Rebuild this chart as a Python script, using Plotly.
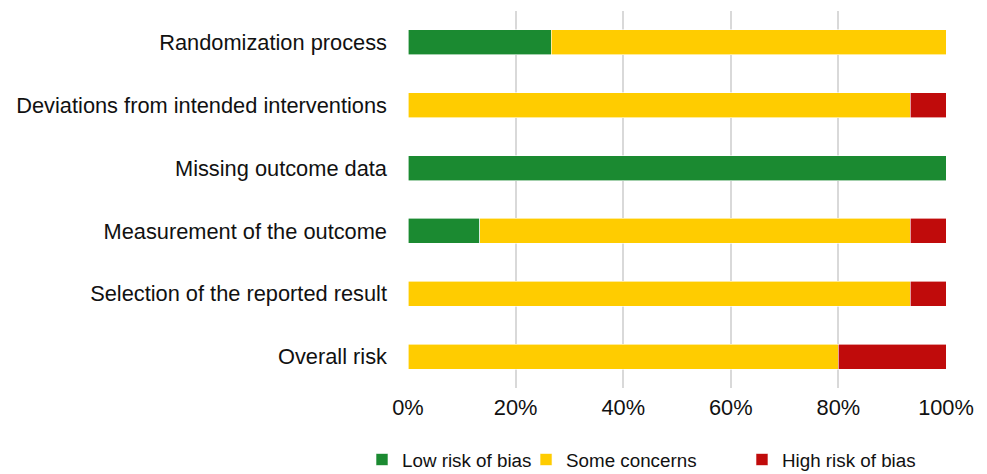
import plotly.graph_objects as go

categories = ["Randomization process", "Deviations from intended interventions",
              "Missing outcome data", "Measurement of the outcome",
              "Selection of the reported result", "Overall risk"]
low = [26.67, 0, 100, 13.33, 0, 0]
some = [73.33, 93.33, 0, 80.0, 93.33, 80.0]
high = [0, 6.67, 0, 6.67, 6.67, 20.0]
tick_vals = [0, 20, 40, 60, 80, 100]
tick_text = ["0%", "20%", "40%", "60%", "80%", "100%"]

series = [("Low risk of bias", low, "#1b8a31", "legend2"),
          ("Some concerns", some, "#ffcc00", "legend3"),
          ("High risk of bias", high, "#c00b0b", "legend4")]

fig = go.Figure()
for name, vals, col, lg in series:
    fig.add_trace(go.Bar(y=categories, x=vals, name=name, orientation="h",
                         marker=dict(color=col, line=dict(color="white", width=0.6)),
                         width=0.4, legend=lg, showlegend=True))

leg_common = dict(orientation="h", xanchor="left", y=-0.14, yanchor="top",
                  font=dict(size=18.8), itemwidth=30, visible=True,
                  bgcolor="rgba(255,255,255,0)")

fig.update_layout(
    barmode="stack",
    width=979, height=466,
    showlegend=True,
    margin=dict(l=400, r=41, t=3, b=86, autoexpand=False),
    paper_bgcolor="white", plot_bgcolor="white",
    font=dict(family="Liberation Sans, Arial, sans-serif", size=21.8, color="#111111"),
    xaxis=dict(range=[0, 100], tickvals=tick_vals, ticktext=tick_text,
               showgrid=True, gridcolor="#d9d9d9", gridwidth=1.5, zeroline=False,
               ticks="", fixedrange=True, ticklabelstandoff=4),
    yaxis=dict(autorange="reversed", ticks="", showgrid=False, ticklabelstandoff=20),
    legend2=dict(x=-0.0855, **leg_common),
    legend3=dict(x=0.2194, **leg_common),
    legend4=dict(x=0.6208, **leg_common),
    bargap=0.6,
)
fig.write_html("out.html")
